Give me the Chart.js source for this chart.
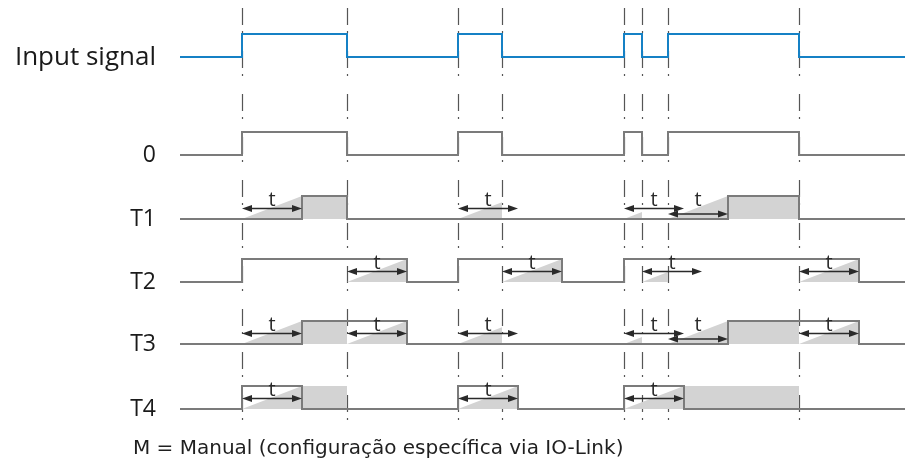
<!DOCTYPE html>
<html>
<head>
<meta charset="utf-8">
<script src="https://cdn.jsdelivr.net/npm/chart.js@4.4.0/dist/chart.umd.min.js"></script>
<style>
  body { margin: 0; background: #fff; }
  #wrap { width: 905px; height: 464px; }
</style>
</head>
<body>
<div id="wrap"><canvas id="timing" width="905" height="464"></canvas></div>
<script>
// lane names, top to bottom
const signalNames = ['Input signal', '0', 'T1', 'T2', 'T3', 'T4'];
// switching times of the input (rise, fall, rise, fall ...)
const inputEdges = [242, 347, 458, 502, 624, 642, 668, 799];
// switching times of each output mode
const outEdges = [
    [242, 347, 458, 502, 624, 642, 668, 799], // 0
    [302, 347, 728, 799],                     // T1
    [242, 407, 458, 562, 624, 859],           // T2
    [302, 407, 728, 859],                     // T3
    [242, 302, 458, 518, 624, 684]            // T4
];
const delayT = 60;
// timer ramps [start, end]
const ramps = [
    [],
    [[242, 302], [458, 502], [624, 642], [668, 728]],
    [[347, 407], [502, 562], [642, 668], [799, 859]],
    [[242, 302], [347, 407], [458, 502], [624, 642], [668, 728], [799, 859]],
    [[242, 302], [458, 518], [624, 684]]
];
// grey hold periods [start, end]
const holdBlocks = [
    [],
    [[302, 347], [728, 799]],
    [],
    [[302, 347], [728, 799]],
    [[302, 347], [684, 799]]
];
// where each "t" arrow starts
const arrowStarts = [
    [],
    [242, 458, 624, 668],
    [347, 502, 642, 799],
    [242, 347, 458, 624, 668, 799],
    [242, 458, 624]
];
const timeRange = [0, 905];
const traceStart = 180;
const footNote = 'M = Manual (configuração específica via IO-Link)';

// layout
const laneBase = [57, 155, 219, 282, 344, 409];
const levelH = 23;
const blue = '#1581c5';
const grey = '#7b7b7b';
const shade = '#d3d3d3';

function wavePoints(edges, base) {
    let pts = [{x: traceStart, y: base}];
    let high = false;
    edges.forEach(e => {
        pts.push({x: e, y: high ? base - levelH : base});
        high = !high;
        pts.push({x: e, y: high ? base - levelH : base});
    });
    pts.push({x: timeRange[1], y: base});
    return pts;
}

let datasets = [];

datasets.push({
    data: wavePoints(inputEdges, laneBase[0]),
    borderColor: blue, borderWidth: 2, fill: false, order: 1
});

outEdges.forEach((edges, i) => {
    const base = laneBase[i + 1];
    datasets.push({
        data: wavePoints(edges, base),
        borderColor: grey, borderWidth: 2, fill: false, order: 1
    });
    ramps[i].forEach(r => {
        datasets.push({
            data: [{x: r[0], y: base}, {x: r[1], y: base - levelH * (r[1] - r[0]) / delayT}],
            borderWidth: 0, borderColor: shade, backgroundColor: shade,
            fill: {value: base}, order: 2
        });
    });
    holdBlocks[i].forEach(b => {
        datasets.push({
            data: [{x: b[0], y: base - levelH}, {x: b[1], y: base - levelH}],
            borderWidth: 0, borderColor: shade, backgroundColor: shade,
            fill: {value: base}, order: 2
        });
    });
});

function drawArrow(ctx, x1, x2, y) {
    const head = 10, w = 3.5;
    ctx.beginPath();
    ctx.moveTo(x1 + head - 1, y);
    ctx.lineTo(x2 - head + 1, y);
    ctx.stroke();
    ctx.beginPath();
    ctx.moveTo(x1, y);
    ctx.lineTo(x1 + head, y - w);
    ctx.lineTo(x1 + head, y + w);
    ctx.closePath();
    ctx.fill();
    ctx.beginPath();
    ctx.moveTo(x2, y);
    ctx.lineTo(x2 - head, y - w);
    ctx.lineTo(x2 - head, y + w);
    ctx.closePath();
    ctx.fill();
}

const decor = {
    id: 'decor',
    beforeDatasetsDraw(chart) {
        const ctx = chart.ctx;
        const x = chart.scales.x;
        ctx.save();
        ctx.strokeStyle = '#555';
        ctx.lineWidth = 1.2;
        ctx.setLineDash([17, 6, 2, 18]);
        ctx.lineDashOffset = -8;
        inputEdges.forEach(e => {
            const px = Math.round(x.getPixelForValue(e)) + 0.5;
            ctx.beginPath();
            ctx.moveTo(px, 0);
            ctx.lineTo(px, 424);
            ctx.stroke();
        });
        ctx.restore();
    },
    afterDatasetsDraw(chart) {
        const ctx = chart.ctx;
        const x = chart.scales.x;
        const y = chart.scales.y;
        ctx.save();
        // t arrows
        ctx.strokeStyle = '#2a2a2a';
        ctx.fillStyle = '#2a2a2a';
        ctx.lineWidth = 1.5;
        arrowStarts.forEach((starts, i) => {
            const base = laneBase[i + 1];
            starts.forEach((s, k) => {
                const lowered = k > 0 && s < starts[k - 1] + delayT;
                const ay = y.getPixelForValue(base - (lowered ? 5 : 10.5));
                const x1 = x.getPixelForValue(s);
                const x2 = x.getPixelForValue(s + delayT);
                drawArrow(ctx, x1, x2, ay);
                ctx.font = '20px "Open Sans"';
                ctx.textAlign = 'center';
                ctx.textBaseline = 'alphabetic';
                ctx.fillText('t', (x1 + x2) / 2, y.getPixelForValue(base - 13.5));
            });
        });
        // lane names
        ctx.fillStyle = '#1a1a1a';
        ctx.textAlign = 'right';
        signalNames.forEach((name, i) => {
            const size = i === 0 ? 26 : 23;
            ctx.font = size + 'px "Open Sans"';
            ctx.fillText(name, 156, y.getPixelForValue(laneBase[i]) + size * 0.3);
        });
        // foot note
        ctx.textAlign = 'left';
        ctx.fillStyle = '#1f1f1f';
        ctx.font = '20px "DejaVu Sans"';
        ctx.fillText(footNote, 133, 454);
        ctx.restore();
    }
};

new Chart(document.getElementById('timing'), {
    type: 'line',
    data: {datasets: datasets},
    options: {
        responsive: false,
        animation: false,
        devicePixelRatio: 1,
        layout: {padding: 0},
        elements: {point: {radius: 0}, line: {tension: 0}},
        scales: {
            x: {type: 'linear', min: timeRange[0], max: timeRange[1], display: false},
            y: {type: 'linear', min: 0, max: 464, reverse: true, display: false}
        },
        plugins: {legend: {display: false}, tooltip: {enabled: false}}
    },
    plugins: [decor]
});
</script>
</body>
</html>
